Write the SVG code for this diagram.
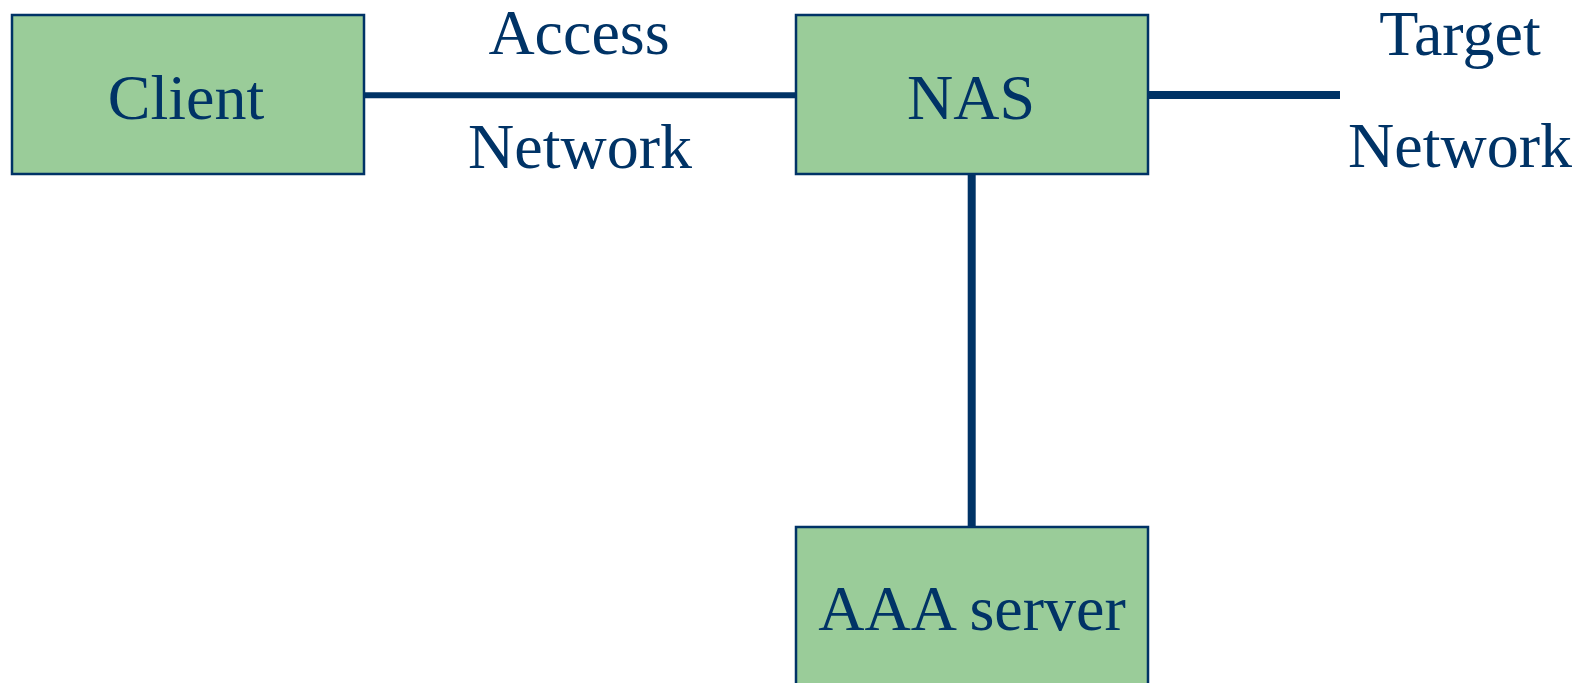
<svg xmlns="http://www.w3.org/2000/svg" width="1591" height="683" viewBox="0 0 1591 683">
<style>
.box{fill:#9ACC99;stroke:#003366;stroke-width:2.5}
.lbl{font-family:"Liberation Serif","Times New Roman",serif;font-size:64px;fill:#003366;text-anchor:middle}
.ln{stroke:#003366;fill:none}
</style>
<rect width="1591" height="683" fill="#ffffff"/>
<g id="connectors">
<line class="ln" x1="364" y1="95.3" x2="796" y2="95.3" stroke-width="6"/>
<line class="ln" x1="1148" y1="95" x2="1340" y2="95" stroke-width="8"/>
<line class="ln" x1="971.7" y1="174" x2="971.7" y2="527" stroke-width="8"/>
</g>
<g id="client">
<rect class="box" x="12" y="15" width="352" height="159"/>
<text class="lbl" x="186" y="119">Client</text>
</g>
<g id="nas">
<rect class="box" x="796" y="15" width="352" height="159"/>
<text class="lbl" x="971" y="119">NAS</text>
</g>
<g id="aaa">
<rect class="box" x="796" y="527" width="352" height="170"/>
<text class="lbl" x="972" y="630">AAA server</text>
</g>
<g id="access-network">
<text class="lbl" x="579" y="54">Access</text>
<text class="lbl" x="580" y="168">Network</text>
</g>
<g id="target-network">
<text class="lbl" x="1460" y="55">Target</text>
<text class="lbl" x="1460" y="167">Network</text>
</g>
</svg>
